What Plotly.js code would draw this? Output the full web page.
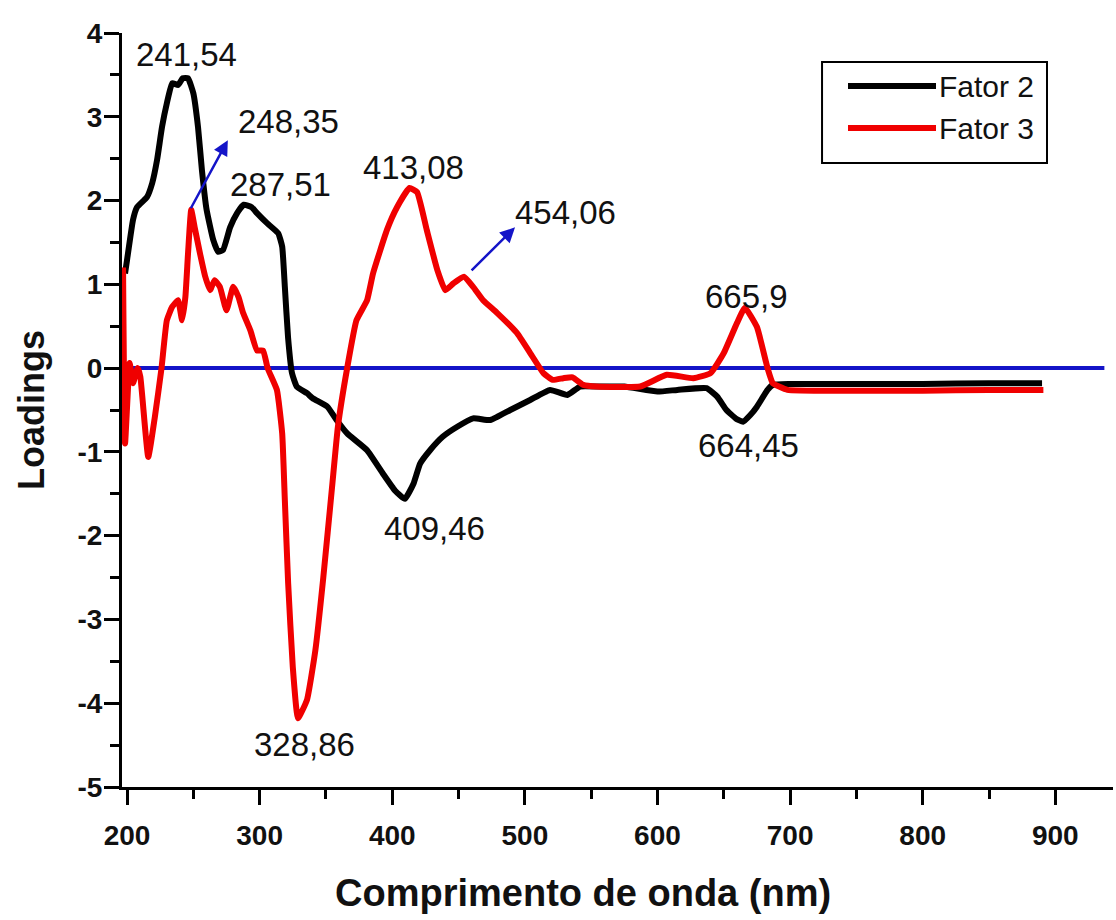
<!DOCTYPE html>
<html>
<head>
<meta charset="utf-8">
<script src="https://cdn.plot.ly/plotly-3.0.1.min.js"></script>
<style>html,body{margin:0;padding:0;background:#fff;}#chart{width:1116px;height:920px;}</style>
</head>
<body>
<div id="chart"></div>
<script>
// Fator 2 (black) - wavelength (nm) and loadings
const fator2X = [198.5, 200, 204.5, 207.5, 215, 219, 222.6, 226.4, 230, 234, 238.5, 242, 246, 250, 253.5, 256.5, 260, 265, 268.6, 272.4, 277.7, 283, 288, 294, 298, 305.6, 314, 317, 319, 321.4, 324.4, 328, 335.7, 340, 351, 358, 366, 381, 393, 402, 409.5, 416, 421, 428.5, 438, 449, 461, 474, 489, 504, 519, 532, 541.6, 557, 575, 600, 615, 637, 645, 652, 659, 664.5, 670, 675, 683, 687, 700, 750, 800, 850, 890];
const fator2Y = [1.13, 1.29, 1.77, 1.92, 2.04, 2.21, 2.48, 2.88, 3.16, 3.40, 3.38, 3.46, 3.46, 3.28, 2.88, 2.36, 1.89, 1.53, 1.39, 1.41, 1.68, 1.85, 1.95, 1.92, 1.85, 1.73, 1.61, 1.45, 0.97, 0.37, -0.06, -0.22, -0.30, -0.36, -0.46, -0.62, -0.78, -0.98, -1.26, -1.46, -1.56, -1.38, -1.14, -0.98, -0.82, -0.70, -0.60, -0.62, -0.50, -0.38, -0.26, -0.32, -0.22, -0.22, -0.22, -0.28, -0.26, -0.24, -0.34, -0.50, -0.60, -0.64, -0.56, -0.46, -0.26, -0.20, -0.19, -0.19, -0.19, -0.18, -0.18];

// Fator 3 (red)
const fator3X = [197, 198.5, 202, 204.5, 208, 210, 216, 221, 226, 230, 234, 238.5, 241.5, 244, 246, 248.4, 251, 255, 259, 262.6, 266, 270, 275, 280, 284, 287.5, 293, 298, 302.6, 306, 313, 317, 319, 321.5, 325, 328.9, 335.7, 342, 348, 354.6, 359, 366, 373, 381, 385.5, 396, 403.6, 413, 418.7, 426, 434, 440, 446, 454, 461, 468.5, 479, 494, 504, 514, 521, 529, 536, 544, 554, 587, 607, 627, 640, 650, 660, 665.9, 675, 683, 687, 698, 750, 800, 850, 891];
const fator3Y = [1.20, -0.90, 0.06, -0.18, 0.00, -0.10, -1.06, -0.58, 0.00, 0.57, 0.73, 0.81, 0.57, 0.85, 1.37, 1.89, 1.68, 1.37, 1.09, 0.93, 1.05, 0.97, 0.69, 0.97, 0.85, 0.66, 0.45, 0.21, 0.21, 0.00, -0.26, -0.78, -1.58, -2.57, -3.57, -4.18, -3.96, -3.37, -2.50, -1.42, -0.70, 0.00, 0.57, 0.81, 1.13, 1.65, 1.92, 2.15, 2.10, 1.65, 1.17, 0.93, 1.01, 1.09, 0.97, 0.81, 0.66, 0.42, 0.18, -0.06, -0.14, -0.12, -0.11, -0.20, -0.22, -0.22, -0.08, -0.12, -0.06, 0.18, 0.54, 0.72, 0.49, 0.00, -0.18, -0.26, -0.27, -0.27, -0.26, -0.26];

// zero reference line
const zeroX = [196.2, 937];
const zeroY = [0, 0];

// tick labels
const xTickVals = [200, 300, 400, 500, 600, 700, 800, 900];
const xTickText = ['200', '300', '400', '500', '600', '700', '800', '900'];
const yTickVals = [4, 3, 2, 1, 0, -1, -2, -3, -4, -5];
const yTickText = ['4', '3', '2', '1', '0', '-1', '-2', '-3', '-4', '-5'];

// series names (legend)
const seriesNames = ['Fator 2', 'Fator 3'];
const seriesColors = ['#000000', '#f00000'];

// peak labels: text, x, y
const peakText = ['241,54', '248,35', '287,51', '413,08', '454,06', '665,9', '664,45', '409,46', '328,86'];
const peakLabelX = [245, 322, 316, 416, 531, 667, 669, 432, 334];
const peakLabelY = [3.74, 2.94, 2.19, 2.40, 1.86, 0.85, -0.92, -1.91, -4.49];

// arrows: head x/y, tail x/y
const arrowHeadX = [276, 492.6];
const arrowHeadY = [2.72, 1.68];
const arrowTailX = [247.5, 458.7];
const arrowTailY = [1.89, 1.15];

const FONT = 'Liberation Sans, Arial, Helvetica, sans-serif';
const BLUE = '#1414c8';

const traces = [
  {x: zeroX, y: zeroY, mode: 'lines', line: {color: BLUE, width: 4}, showlegend: false, hoverinfo: 'skip'},
  {x: fator2X, y: fator2Y, mode: 'lines', name: seriesNames[0], showlegend: false, line: {color: seriesColors[0], width: 6, shape: 'spline', smoothing: 0.4}},
  {x: fator3X, y: fator3Y, mode: 'lines', name: seriesNames[1], showlegend: false, line: {color: seriesColors[1], width: 6, shape: 'spline', smoothing: 0.4}}
];

const annotations = [];
for (let i = 0; i < peakText.length; i++) {
  annotations.push({x: peakLabelX[i], y: peakLabelY[i], xref: 'x', yref: 'y', text: peakText[i], showarrow: false,
    font: {family: FONT, size: 33, color: '#111'}});
}
for (let i = 0; i < arrowHeadX.length; i++) {
  annotations.push({x: arrowHeadX[i], y: arrowHeadY[i], ax: arrowTailX[i], ay: arrowTailY[i], xref: 'x', yref: 'y', axref: 'x', ayref: 'y',
    text: '', showarrow: true, arrowhead: 2, arrowsize: 1.2, arrowwidth: 2.5, arrowcolor: BLUE, standoff: 0, startstandoff: 0});
}
// x axis title (placed left of plot centre as in the original)
annotations.push({xref: 'paper', yref: 'paper', x: 0.465, y: -0.141, xanchor: 'center', yanchor: 'middle', showarrow: false,
  text: 'Comprimento de onda (nm)', font: {family: FONT, size: 38, color: '#111', weight: 'bold'}});

// legend box (drawn in paper space)
const legBox = {x0: 0.7064, x1: 0.9334, y0: 0.8276, y1: 0.9615};
const legRowsY = [0.9297, 0.8740];
const shapes = [{type: 'rect', xref: 'paper', yref: 'paper', x0: legBox.x0, x1: legBox.x1, y0: legBox.y0, y1: legBox.y1,
  line: {color: '#000', width: 2}, fillcolor: '#fff', layer: 'above'}];
for (let i = 0; i < seriesNames.length; i++) {
  shapes.push({type: 'line', xref: 'paper', yref: 'paper', x0: 0.7326, x1: 0.8214, y0: legRowsY[i], y1: legRowsY[i],
    line: {color: seriesColors[i], width: 6}, layer: 'above'});
  annotations.push({xref: 'paper', yref: 'paper', x: 0.8224, y: legRowsY[i], xanchor: 'left', yanchor: 'middle', showarrow: false,
    text: seriesNames[i], font: {family: FONT, size: 30, color: '#111'}});
}

const layout = {
  width: 1116, height: 920,
  margin: {l: 122, r: 3, t: 33, b: 133, pad: 0},
  paper_bgcolor: '#ffffff', plot_bgcolor: '#ffffff',
  showlegend: false,
  xaxis: {
    range: [196.2, 943.5], showgrid: false, zeroline: false, showline: true, linecolor: '#000', linewidth: 3,
    ticks: 'outside', ticklen: 15, tickwidth: 3, tickcolor: '#000', tickmode: 'array', tickvals: xTickVals, ticktext: xTickText,
    ticklabelstandoff: 6,
    tickfont: {family: FONT, size: 28, color: '#111', weight: 'bold'},
    minor: {dtick: 50, tick0: 0, ticks: 'outside', ticklen: 9, tickwidth: 3, tickcolor: '#000', showgrid: false}
  },
  yaxis: {
    range: [-5, 4], showgrid: false, zeroline: false, showline: true, linecolor: '#000', linewidth: 3,
    ticks: 'outside', ticklen: 15, tickwidth: 3, tickcolor: '#000', tickmode: 'array', tickvals: yTickVals, ticktext: yTickText,
    ticklabelstandoff: -4,
    tickfont: {family: FONT, size: 28, color: '#111', weight: 'bold'},
    minor: {dtick: 0.5, tick0: 0, ticks: 'outside', ticklen: 9, tickwidth: 3, tickcolor: '#000', showgrid: false},
    title: {text: 'Loadings', standoff: 22, font: {family: FONT, size: 36, color: '#111', weight: 'bold'}}
  },
  shapes: shapes,
  annotations: annotations
};

Plotly.newPlot('chart', traces, layout, {displayModeBar: false, staticPlot: true});
</script>
</body>
</html>
